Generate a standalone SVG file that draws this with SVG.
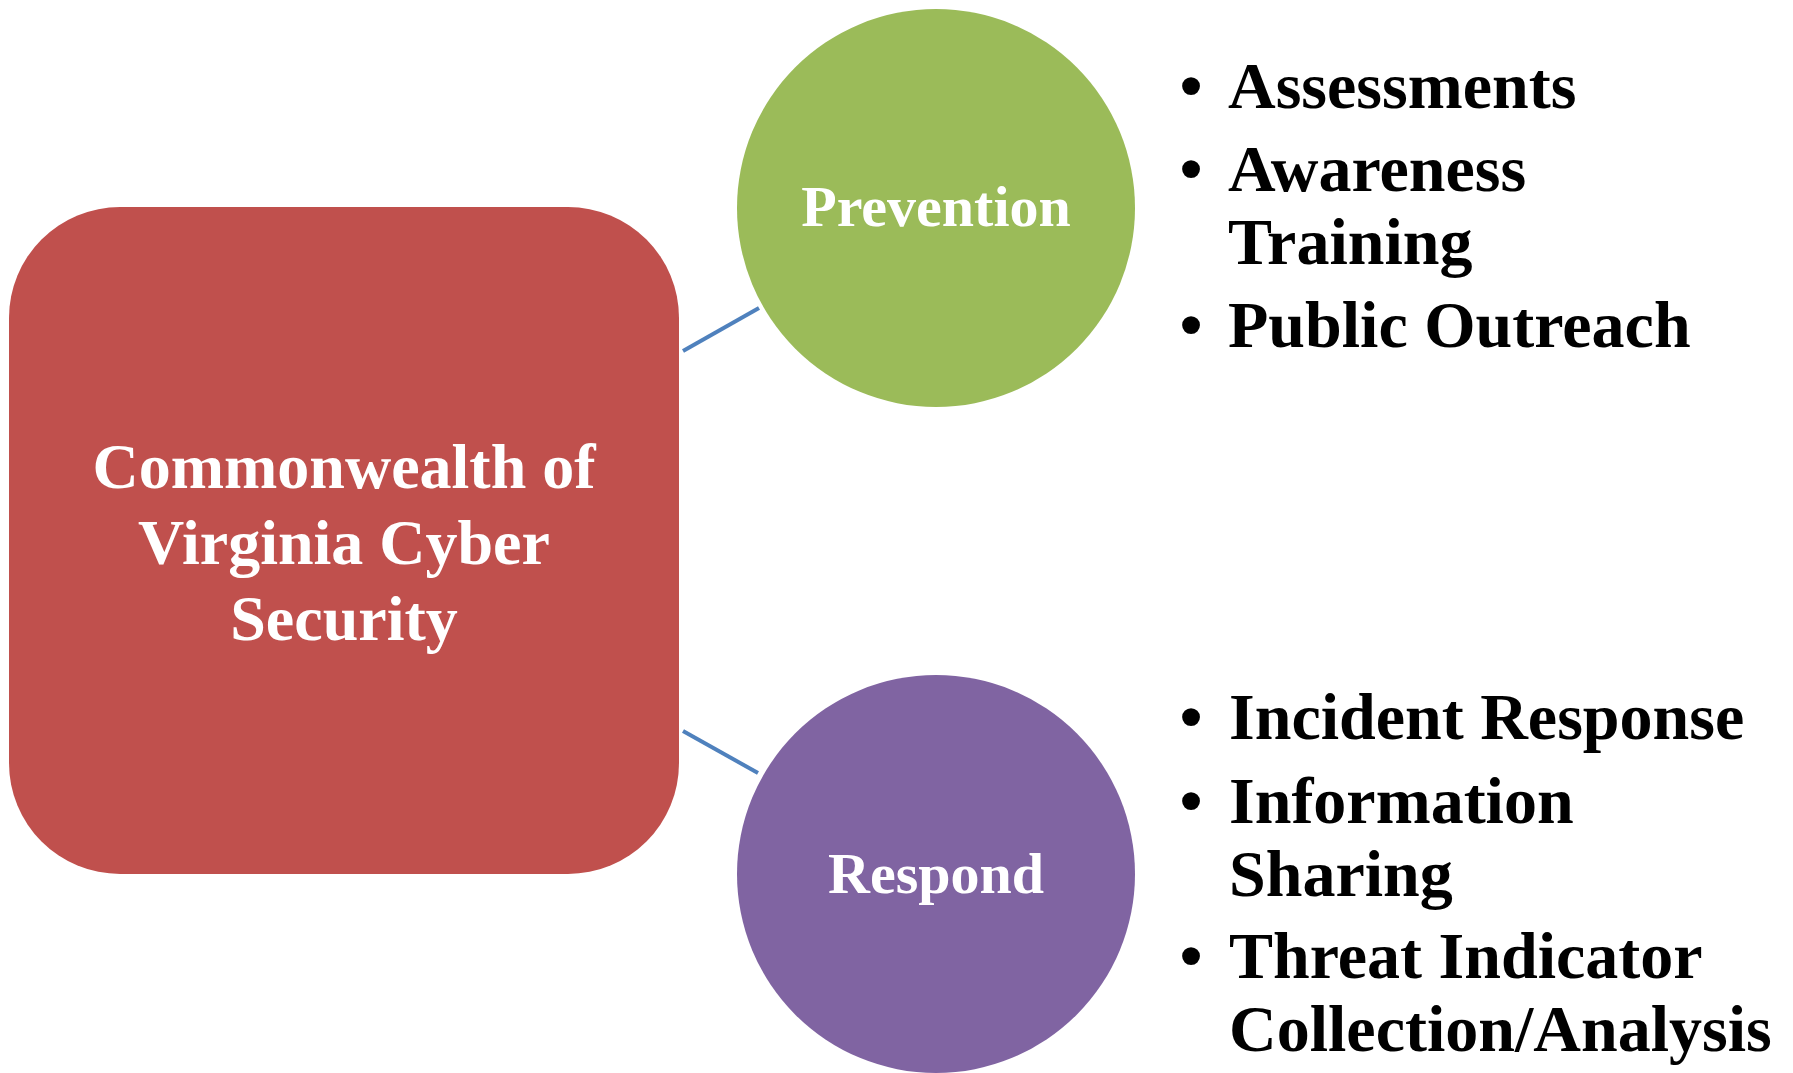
<svg xmlns="http://www.w3.org/2000/svg" width="1793" height="1073" viewBox="0 0 1793 1073">
<style>
.lbl{font-family:"Liberation Serif","Times New Roman",serif;font-weight:bold;fill:#FFFFFF;text-anchor:middle}
.bul{font-family:"Liberation Serif","Times New Roman",serif;font-weight:bold;font-size:66px;fill:#000000}
.conn{stroke:#4F81BD;stroke-width:4;fill:none}
</style>
<rect width="1793" height="1073" fill="#FFFFFF"/>
<g id="connectors">
<line class="conn" x1="683" y1="351" x2="759" y2="308"/>
<line class="conn" x1="683" y1="731" x2="758" y2="773"/>
</g>
<g id="node-main">
<rect x="9" y="207" width="670" height="667" rx="111" ry="111" fill="#C0504D"/>
<text class="lbl" font-size="64" x="344" y="488">Commonwealth of</text>
<text class="lbl" font-size="64" x="344" y="564">Virginia Cyber</text>
<text class="lbl" font-size="64" x="344" y="640">Security</text>
</g>
<g id="node-prevention">
<circle cx="936" cy="208" r="199" fill="#9BBB59"/>
<text class="lbl" font-size="58" x="936" y="226">Prevention</text>
</g>
<g id="node-respond">
<circle cx="936" cy="874" r="199" fill="#8064A2"/>
<text class="lbl" font-size="58" x="936" y="893">Respond</text>
</g>
<g id="list-prevention">
<text class="bul" x="1191" y="108" text-anchor="middle">•</text>
<text class="bul" x="1228" y="108">Assessments</text>
<text class="bul" x="1191" y="191" text-anchor="middle">•</text>
<text class="bul" x="1228" y="191">Awareness</text>
<text class="bul" x="1228" y="264">Training</text>
<text class="bul" x="1191" y="347" text-anchor="middle">•</text>
<text class="bul" x="1228" y="347">Public Outreach</text>
</g>
<g id="list-respond">
<text class="bul" x="1191" y="739" text-anchor="middle">•</text>
<text class="bul" x="1229" y="739">Incident Response</text>
<text class="bul" x="1191" y="823" text-anchor="middle">•</text>
<text class="bul" x="1229" y="823">Information</text>
<text class="bul" x="1229" y="896">Sharing</text>
<text class="bul" x="1191" y="978" text-anchor="middle">•</text>
<text class="bul" x="1229" y="978">Threat Indicator</text>
<text class="bul" x="1229" y="1051">Collection/Analysis</text>
</g>
</svg>
